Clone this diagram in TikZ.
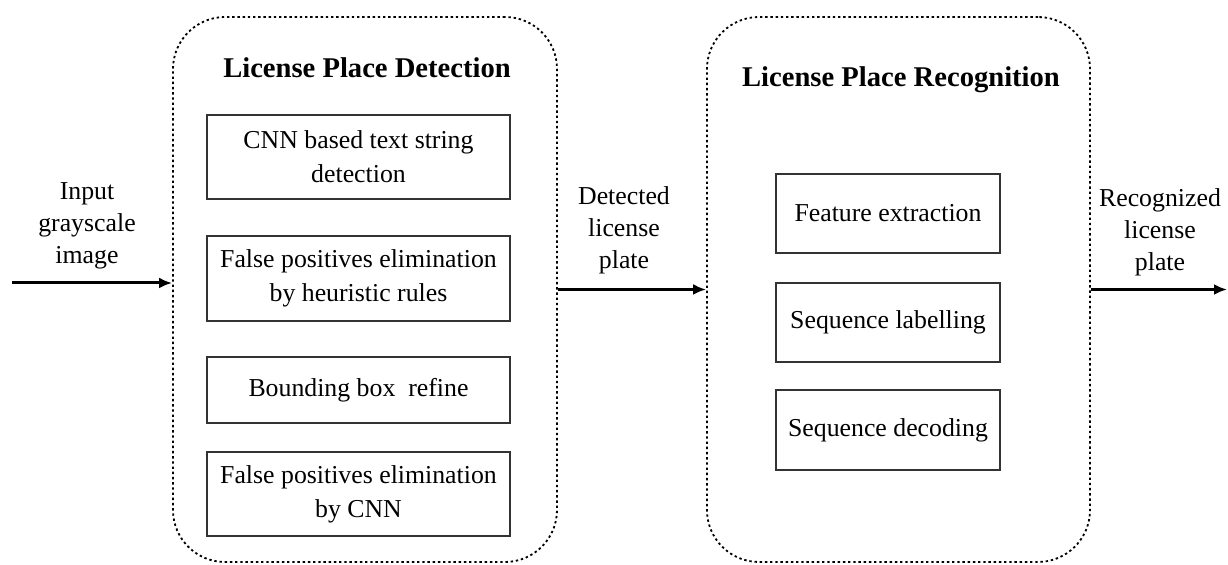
\documentclass[tikz,border=0pt]{standalone}
\usepackage{fontspec}
\setmainfont{Liberation Serif}
\usetikzlibrary{arrows.meta}
\begin{document}
\begin{tikzpicture}[
		x=0.5pt,y=-0.5pt,
		inp/.style = {-{Latex[length=6.5pt,width=5.5pt]}, line width=1.5pt},
		stage/.style = {draw, dash pattern=on 1.2pt off 1.4pt, line width=0.9pt, rounded corners=26pt, minimum width=192pt, minimum height=272.5pt},
		operation/.style = {draw=black!80, line width=0.9pt, align=center, font=\fontsize{12.9}{17}\selectfont},
		title/.style = {font=\fontsize{14.3}{17}\selectfont\bfseries},
		lbl/.style = {align=center, font=\fontsize{12.9}{16}\selectfont}
	]
	\useasboundingbox (0,0) rectangle (1228,565);
	\node (detBox) [stage] at (365,289.5) {};
	\node (recBox) [stage, minimum width=191.5pt] at (898.5,289.5) {};
	\node (detTitle) [title] at (367,68) {License Place Detection};
	\node (recTitle) [title] at (901,80) {License Place Recognition};
	\node (cnnDet) [operation, minimum width=151.5pt, minimum height=42pt] at (358.5,157) {CNN based text string\\detection};
	\node (fpHeur) [operation, minimum width=151.5pt, minimum height=42.5pt] at (358.5,278.5) {False positives elimination\\by heuristic rules};
	\node (bbRefine) [operation, minimum width=151.5pt, minimum height=33pt] at (358.5,390) {Bounding box\ \ refine};
	\node (fpCnn) [operation, minimum width=151.5pt, minimum height=42pt] at (358.5,494) {False positives elimination\\by CNN};
	\node (featExt) [operation, minimum width=112pt, minimum height=39.5pt] at (888,213.5) {Feature extraction};
	\node (seqLab) [operation, minimum width=112pt, minimum height=39.5pt] at (888,322.5) {Sequence labelling};
	\node (seqDec) [operation, minimum width=112pt, minimum height=40pt] at (888,430) {Sequence decoding};
	\node (inLbl) [lbl] at (87,226) {Input\\grayscale\\image};
	\node (detLbl) [lbl] at (624,230) {Detected\\license\\plate};
	\node (recLbl) [lbl] at (1160,232) {Recognized\\license\\plate};
	\coordinate (inStart) at (12,283);
	\coordinate (outEnd) at (1227,289.5);

	\path [inp] (inStart) edge (inStart -| detBox.west);
	\path [inp] (detBox.east) edge (recBox.west);
	\path [inp] (recBox.east) edge (outEnd);
\end{tikzpicture}
\end{document}
